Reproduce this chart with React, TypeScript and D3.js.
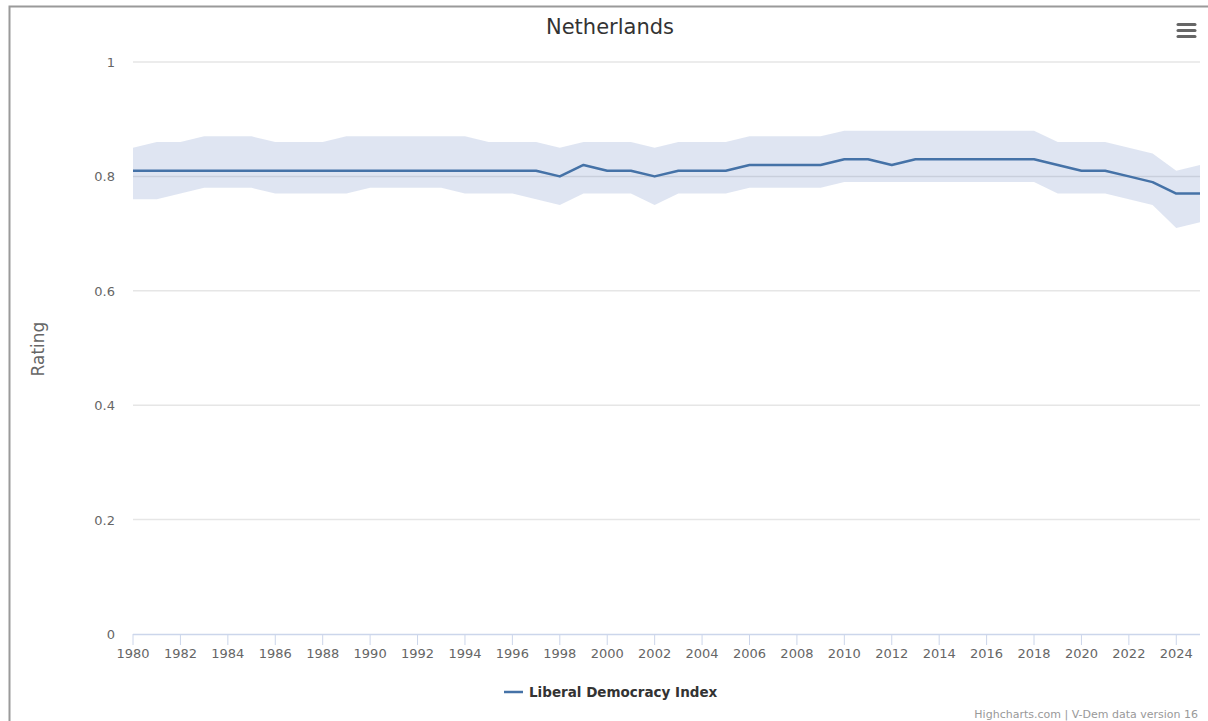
import React, { useRef, useEffect } from 'react';
import * as d3 from 'd3';

const years = [
  1980, 1981, 1982, 1983, 1984, 1985, 1986, 1987, 1988, 1989,
  1990, 1991, 1992, 1993, 1994, 1995, 1996, 1997, 1998, 1999,
  2000, 2001, 2002, 2003, 2004, 2005, 2006, 2007, 2008, 2009,
  2010, 2011, 2012, 2013, 2014, 2015, 2016, 2017, 2018, 2019,
  2020, 2021, 2022, 2023, 2024, 2025,
];
const ldi = [
  0.81, 0.81, 0.81, 0.81, 0.81, 0.81, 0.81, 0.81, 0.81, 0.81,
  0.81, 0.81, 0.81, 0.81, 0.81, 0.81, 0.81, 0.81, 0.80, 0.82,
  0.81, 0.81, 0.80, 0.81, 0.81, 0.81, 0.82, 0.82, 0.82, 0.82,
  0.83, 0.83, 0.82, 0.83, 0.83, 0.83, 0.83, 0.83, 0.83, 0.82,
  0.81, 0.81, 0.80, 0.79, 0.77, 0.77,
];
const ldiHigh = [
  0.85, 0.86, 0.86, 0.87, 0.87, 0.87, 0.86, 0.86, 0.86, 0.87,
  0.87, 0.87, 0.87, 0.87, 0.87, 0.86, 0.86, 0.86, 0.85, 0.86,
  0.86, 0.86, 0.85, 0.86, 0.86, 0.86, 0.87, 0.87, 0.87, 0.87,
  0.88, 0.88, 0.88, 0.88, 0.88, 0.88, 0.88, 0.88, 0.88, 0.86,
  0.86, 0.86, 0.85, 0.84, 0.81, 0.82,
];
const ldiLow = [
  0.76, 0.76, 0.77, 0.78, 0.78, 0.78, 0.77, 0.77, 0.77, 0.77,
  0.78, 0.78, 0.78, 0.78, 0.77, 0.77, 0.77, 0.76, 0.75, 0.77,
  0.77, 0.77, 0.75, 0.77, 0.77, 0.77, 0.78, 0.78, 0.78, 0.78,
  0.79, 0.79, 0.79, 0.79, 0.79, 0.79, 0.79, 0.79, 0.79, 0.77,
  0.77, 0.77, 0.76, 0.75, 0.71, 0.72,
];
const xTicks = [
  1980, 1982, 1984, 1986, 1988, 1990, 1992, 1994, 1996, 1998, 2000, 2002,
  2004, 2006, 2008, 2010, 2012, 2014, 2016, 2018, 2020, 2022, 2024,
];
const yTicks = [0, 0.2, 0.4, 0.6, 0.8, 1];

const FONT = '"DejaVu Sans", "Lucida Grande", sans-serif';
const LINE_COLOR = '#4572a7';

const App = () => {
  const chartRef = useRef<SVGSVGElement>(null);
  const width = 1208, height = 721;
  const plot = { left: 133, right: 1200, top: 62, bottom: 634 };

  useEffect(() => {
    const svg = d3.select(chartRef.current);
    svg.selectAll('*').remove();

    const x = d3.scaleLinear().domain([1980, 2025]).range([plot.left, plot.right]);
    const y = d3.scaleLinear().domain([0, 1]).range([plot.bottom, plot.top]);
    const rows = years.map((yr, i) => ({ yr, v: ldi[i], lo: ldiLow[i], hi: ldiHigh[i] }));

    // container border
    svg.append('path')
      .attr('d', `M9.5,${height} L9.5,6.5 L${width},6.5`)
      .attr('fill', 'none')
      .attr('stroke', '#9a9a9a')
      .attr('stroke-width', 2);

    // grid
    svg.append('g')
      .selectAll('line')
      .data(yTicks.filter(d => d > 0))
      .enter()
      .append('line')
      .attr('x1', plot.left)
      .attr('x2', plot.right)
      .attr('y1', d => y(d))
      .attr('y2', d => y(d))
      .attr('stroke', '#e6e6e6')
      .attr('stroke-width', 1.5);

    // y labels
    svg.append('g')
      .selectAll('text')
      .data(yTicks)
      .enter()
      .append('text')
      .attr('x', 115)
      .attr('y', d => y(d) + 5)
      .attr('text-anchor', 'end')
      .style('font-family', FONT)
      .style('font-size', '13px')
      .attr('fill', '#666')
      .text(d => d3.format('~g')(d));

    // band
    const band = d3.area<any>()
      .x(d => x(d.yr))
      .y0(d => y(d.lo))
      .y1(d => y(d.hi));
    svg.append('path')
      .datum(rows)
      .attr('d', band)
      .attr('fill', '#2a52a8')
      .attr('fill-opacity', 0.15);

    // line
    const line = d3.line<any>()
      .x(d => x(d.yr))
      .y(d => y(d.v));
    svg.append('path')
      .datum(rows)
      .attr('d', line)
      .attr('fill', 'none')
      .attr('stroke', LINE_COLOR)
      .attr('stroke-width', 2.5)
      .attr('stroke-linejoin', 'round');

    // x axis
    svg.append('line')
      .attr('x1', plot.left)
      .attr('x2', plot.right)
      .attr('y1', plot.bottom + 0.5)
      .attr('y2', plot.bottom + 0.5)
      .attr('stroke', '#ccd6eb')
      .attr('stroke-width', 1.5);
    const xg = svg.append('g');
    xg.selectAll('line')
      .data(xTicks)
      .enter()
      .append('line')
      .attr('x1', d => x(d))
      .attr('x2', d => x(d))
      .attr('y1', plot.bottom)
      .attr('y2', plot.bottom + 11)
      .attr('stroke', '#ccd6eb')
      .attr('stroke-width', 1);
    xg.selectAll('text')
      .data(xTicks)
      .enter()
      .append('text')
      .attr('x', d => x(d))
      .attr('y', plot.bottom + 24)
      .attr('text-anchor', 'middle')
      .style('font-family', FONT)
      .style('font-size', '13px')
      .attr('fill', '#666')
      .text(d => String(d));

    // title
    svg.append('text')
      .attr('x', 610)
      .attr('y', 34)
      .attr('text-anchor', 'middle')
      .style('font-family', FONT)
      .style('font-size', '21px')
      .attr('fill', '#333')
      .text('Netherlands');

    // y axis title
    svg.append('text')
      .attr('transform', `translate(44, ${(plot.top + plot.bottom) / 2 + 1}) rotate(-90)`)
      .attr('text-anchor', 'middle')
      .style('font-family', FONT)
      .style('font-size', '17px')
      .attr('fill', '#666')
      .text('Rating');

    // menu icon
    svg.append('g')
      .selectAll('line')
      .data([24.5, 30.5, 36.5])
      .enter()
      .append('line')
      .attr('x1', 1178)
      .attr('x2', 1195)
      .attr('y1', d => d)
      .attr('y2', d => d)
      .attr('stroke', '#666')
      .attr('stroke-width', 3)
      .attr('stroke-linecap', 'round');

    // legend
    const lg = svg.append('g');
    lg.append('line')
      .attr('x1', 504)
      .attr('x2', 523)
      .attr('y1', 692)
      .attr('y2', 692)
      .attr('stroke', LINE_COLOR)
      .attr('stroke-width', 2.5);
    lg.append('text')
      .attr('x', 529)
      .attr('y', 697)
      .style('font-family', FONT)
      .style('font-size', '13.5px')
      .style('font-weight', 'bold')
      .attr('fill', '#333')
      .text('Liberal Democracy Index');

    // credits
    svg.append('text')
      .attr('x', 1198)
      .attr('y', 718)
      .attr('text-anchor', 'end')
      .style('font-family', FONT)
      .style('font-size', '11px')
      .attr('fill', '#999')
      .text('Highcharts.com | V-Dem data version 16');
  }, []);

  return (
    <svg
      ref={chartRef}
      width={width}
      height={height}
      style={{ position: 'absolute', left: 0, top: 0, background: '#fff' }}
    />
  );
};

export default App;
